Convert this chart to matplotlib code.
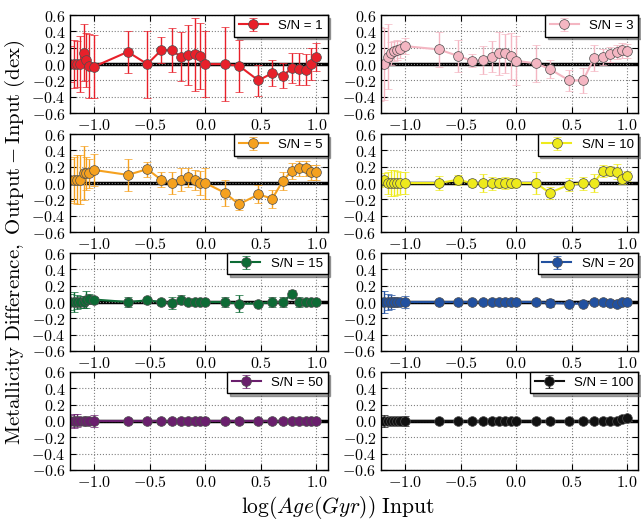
import numpy as np
import matplotlib
matplotlib.use("Agg")
import matplotlib.pyplot as plt
from matplotlib.ticker import FuncFormatter

plt.rcParams["mathtext.fontset"] = "cm"
plt.rcParams["font.family"] = ["DejaVu Serif"]

# ages used for the input models (Gyr)
ages = [0.06, 0.065, 0.07, 0.075, 0.08, 0.085, 0.09, 0.1, 0.2, 0.3, 0.4, 0.5,
        0.6, 0.7, 0.8, 0.9, 1.0, 1.5, 2.0, 3.0, 4.0, 5.0, 6.0, 7.0, 8.0, 9.0, 10.0]
log_age = np.log10(ages)

sn_labels = ["S/N = 1", "S/N = 3", "S/N = 5", "S/N = 10",
             "S/N = 15", "S/N = 20", "S/N = 50", "S/N = 100"]
colors = ["#e8202a", "#f4b6c2", "#f5a11f", "#eeea1c",
          "#0d6b35", "#2251a0", "#6a1f6d", "#111111"]

dz_sn1 = [0.0, 0.0, 0.0, 0.0, 0.14, 0.05, -0.02, -0.03, 0.15, 0.0, 0.17, 0.17, 0.09,
          0.11, 0.12, 0.10, 0.0, 0.0, -0.02, -0.20, -0.11, -0.14, -0.05, -0.06, -0.07, 0.0, 0.09]
err_sn1 = [0.22, 0.29, 0.28, 0.34, 0.35, 0.33, 0.39, 0.39, 0.26, 0.41, 0.16, 0.27, 0.30,
           0.37, 0.45, 0.40, 0.40, 0.45, 0.32, 0.19, 0.16, 0.15, 0.18, 0.19, 0.19, 0.20, 0.17]

dz_sn3 = [0.0, 0.0, 0.09, 0.13, 0.16, 0.17, 0.18, 0.22, 0.18, 0.10, 0.04, 0.05, 0.09,
          0.13, 0.13, 0.10, 0.04, 0.01, -0.06, -0.20, -0.20, 0.07, 0.09, 0.12, 0.15, 0.17, 0.16]
err_sn3 = [0.45, 0.44, 0.40, 0.14, 0.12, 0.12, 0.10, 0.10, 0.21, 0.20, 0.08, 0.17, 0.19,
           0.26, 0.24, 0.28, 0.30, 0.23, 0.11, 0.13, 0.15, 0.16, 0.10, 0.09, 0.09, 0.09, 0.09]

dz_sn5 = [0.04, 0.04, 0.04, 0.04, 0.12, 0.12, 0.12, 0.16, 0.10, 0.17, 0.04, 0.0, 0.04,
          0.07, 0.04, 0.0, 0.0, -0.12, -0.26, -0.14, -0.19, 0.03, 0.15, 0.18, 0.18, 0.13, 0.13]
err_sn5 = [0.26, 0.28, 0.30, 0.30, 0.33, 0.20, 0.18, 0.20, 0.20, 0.09, 0.09, 0.13, 0.14,
           0.12, 0.12, 0.15, 0.19, 0.16, 0.07, 0.11, 0.11, 0.11, 0.10, 0.09, 0.09, 0.09, 0.09]

dz_sn10 = [0.02, 0.04, 0.0, 0.0, 0.0, 0.0, 0.0, 0.0, 0.0, 0.04, 0.0, 0.0, 0.0,
           0.0, 0.0, 0.0, 0.0, 0.0, -0.12, -0.02, 0.0, 0.0, 0.15, 0.15, 0.14, 0.05, 0.09]
err_sn10 = [0.07, 0.08, 0.13, 0.16, 0.16, 0.15, 0.13, 0.13, 0.09, 0.06, 0.05, 0.11, 0.08,
            0.06, 0.07, 0.06, 0.04, 0.13, 0.07, 0.08, 0.08, 0.11, 0.07, 0.06, 0.09, 0.06, 0.06]

dz_sn15 = [0.0, 0.0, 0.0, 0.0, 0.0, 0.03, 0.04, 0.03, 0.0, 0.02, 0.0, -0.01, 0.03,
           0.0, 0.0, 0.0, 0.0, 0.0, -0.02, -0.02, 0.0, 0.0, 0.10, 0.0, 0.0, 0.0, 0.0]
err_sn15 = [0.10, 0.12, 0.09, 0.07, 0.07, 0.10, 0.06, 0.03, 0.06, 0.03, 0.02, 0.07, 0.06,
            0.03, 0.03, 0.04, 0.03, 0.06, 0.10, 0.02, 0.06, 0.06, 0.05, 0.06, 0.02, 0.02, 0.02]

dz_sn20 = [0.0, 0.0, 0.0, 0.0, 0.0, 0.0, 0.0, 0.0, 0.0, 0.0, 0.0, 0.0, 0.0,
           0.0, 0.0, 0.0, 0.0, 0.0, -0.01, -0.02, -0.02, 0.0, 0.0, -0.01, -0.02, 0.0, 0.0]
err_sn20 = [0.14, 0.14, 0.10, 0.08, 0.06, 0.05, 0.05, 0.07, 0.01, 0.01, 0.01, 0.02, 0.02,
            0.01, 0.01, 0.01, 0.01, 0.02, 0.05, 0.02, 0.02, 0.02, 0.03, 0.03, 0.04, 0.02, 0.02]

dz_sn50 = [0.0] * 27
err_sn50 = [0.07, 0.09, 0.08, 0.02, 0.02, 0.02, 0.02, 0.07, 0.01, 0.01, 0.01, 0.01, 0.01,
            0.01, 0.01, 0.01, 0.01, 0.01, 0.01, 0.01, 0.01, 0.01, 0.02, 0.03, 0.01, 0.01, 0.01]

dz_sn100 = [0.0] * 25 + [0.02, 0.04]
err_sn100 = [0.04, 0.07, 0.04, 0.03, 0.02, 0.02, 0.02, 0.06, 0.01, 0.01, 0.01, 0.01, 0.01,
             0.01, 0.01, 0.01, 0.01, 0.01, 0.01, 0.01, 0.01, 0.01, 0.01, 0.01, 0.01, 0.01, 0.01]

dz_all = [dz_sn1, dz_sn3, dz_sn5, dz_sn10, dz_sn15, dz_sn20, dz_sn50, dz_sn100]
err_all = [err_sn1, err_sn3, err_sn5, err_sn10, err_sn15, err_sn20, err_sn50, err_sn100]

fig, axes = plt.subplots(4, 2, figsize=(6.41, 5.21), dpi=100)
fig.subplots_adjust(left=0.109, right=0.996, top=0.971, bottom=0.098,
                    wspace=0.206, hspace=0.214)

fmt = FuncFormatter(lambda v, pos: r"$%.1f$" % v)

for ax, dz, err, lab, col in zip(axes.flat, dz_all, err_all, sn_labels, colors):
    ax.axhline(0, color="black", lw=2.5, zorder=1)
    ax.errorbar(log_age, dz, yerr=err, color=col, ecolor=col, lw=1.5, elinewidth=1,
                capsize=3, capthick=1, marker="o", ms=7, mfc=col,
                mec="0.3", mew=0.5, label=lab, zorder=2)
    ax.set_xlim(-1.22, 1.1)
    ax.set_ylim(-0.6, 0.6)
    ax.set_xticks([-1.0, -0.5, 0.0, 0.5, 1.0])
    ax.set_yticks(np.arange(-0.6, 0.61, 0.2))
    ax.xaxis.set_major_formatter(fmt)
    ax.yaxis.set_major_formatter(fmt)
    ax.tick_params(direction="in", top=True, right=True, labelsize=11.5, length=4, pad=3)
    ax.grid(True, color="0.5", ls=":", lw=0.8)
    for sp in ax.spines.values():
        sp.set_linewidth(1.0)
    leg = ax.legend(loc="upper right", borderaxespad=0, fancybox=False, shadow=True,
                    numpoints=1, prop={"family": "Liberation Sans", "size": 9.5},
                    handlelength=2.2, borderpad=0.35)
    leg.get_frame().set_edgecolor("black")
    leg.get_frame().set_linewidth(1.0)

fig.text(0.024, 0.535, r"$\mathrm{Metallicity\ Difference,\ Output-Input\ (dex)}$",
         rotation=90, ha="center", va="center", fontsize=15)
fig.text(0.527, 0.025, r"$\log(Age(Gyr))\ \mathrm{Input}$",
         ha="center", va="center", fontsize=15.5)

fig.savefig("out.png", dpi=100)
